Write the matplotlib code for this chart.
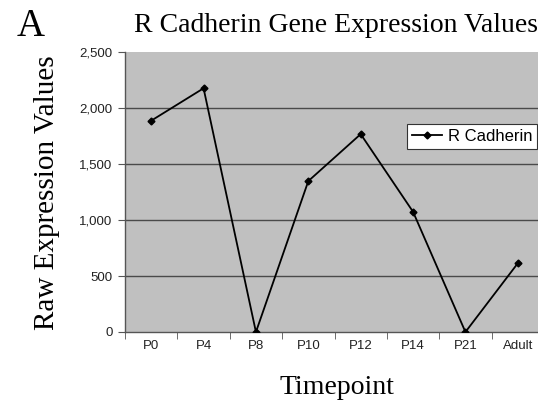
import matplotlib
matplotlib.use("Agg")
import matplotlib.pyplot as plt
import numpy as np
from matplotlib.ticker import FuncFormatter, FixedLocator

categories = ["P0", "P4", "P8", "P10", "P12", "P14", "P21", "Adult"]
values = [1890, 2180, 0, 1350, 1770, 1075, 0, 615]
series_name = "R Cadherin"
yticks = [0, 500, 1000, 1500, 2000, 2500]

W, H = 538, 401
fig = plt.figure(figsize=(W/100, H/100), dpi=100)
left, right, top, bottom = 125, 544, 52.5, 332
ax = fig.add_axes([left/W, (H-bottom)/H, (right-left)/W, (bottom-top)/H])
ax.set_facecolor("#c0c0c0")

x = np.arange(len(categories))
ax.plot(x, values, color="black", lw=1.3, marker="D", ms=3.5, label=series_name, zorder=3)

ax.set_xlim(-0.5, len(categories)-0.5)
ax.set_ylim(0, 2500)
ax.set_yticks(yticks)
ax.yaxis.set_major_formatter(FuncFormatter(lambda v, p: f"{int(v):,}"))
for yv in yticks[1:-1]:
    ax.axhline(yv, color="#4a4a4a", lw=1.0, zorder=1)

ax.set_xticks(x)
ax.set_xticklabels(categories)
ax.xaxis.set_minor_locator(FixedLocator(np.arange(-0.5, len(categories), 1)))
ax.tick_params(axis="x", which="major", length=0, pad=6)
ax.tick_params(axis="x", which="minor", length=5, color="#555555", direction="out")
ax.tick_params(axis="y", length=5, color="#555555", direction="out", pad=4)
for lab in ax.get_xticklabels() + ax.get_yticklabels():
    lab.set_fontfamily("Liberation Sans")
    lab.set_fontsize(9.5)
    lab.set_color("#222222")

for s in ["top", "right"]:
    ax.spines[s].set_visible(False)
for s in ["left", "bottom"]:
    ax.spines[s].set_color("#555555")
    ax.spines[s].set_linewidth(1.0)

serif = "Liberation Serif"
fig.text(336/W, 1-25/H, "R Cadherin Gene Expression Values", ha="center", va="center",
         fontfamily=serif, fontsize=20)
fig.text(31/W, 1-26/H, "A", ha="center", va="center", fontfamily=serif, fontsize=28)
fig.text(47/W, 1-193/H, "Raw Expression Values", ha="center", va="center", rotation=90,
         fontfamily=serif, fontsize=21)
fig.text(337/W, 1-387/H, "Timepoint", ha="center", va="center", fontfamily=serif, fontsize=20)

leg = ax.legend(loc="upper left", bbox_to_anchor=((407-left)/(right-left), (bottom-124)/(bottom-top)),
                frameon=True, fancybox=False, framealpha=1, edgecolor="#333333",
                prop={"family": "Liberation Sans", "size": 12}, handlelength=1.8,
                handletextpad=0.35, borderpad=0.3, borderaxespad=0)
leg.get_frame().set_linewidth(0.8)

fig.savefig("out.png", dpi=100)
